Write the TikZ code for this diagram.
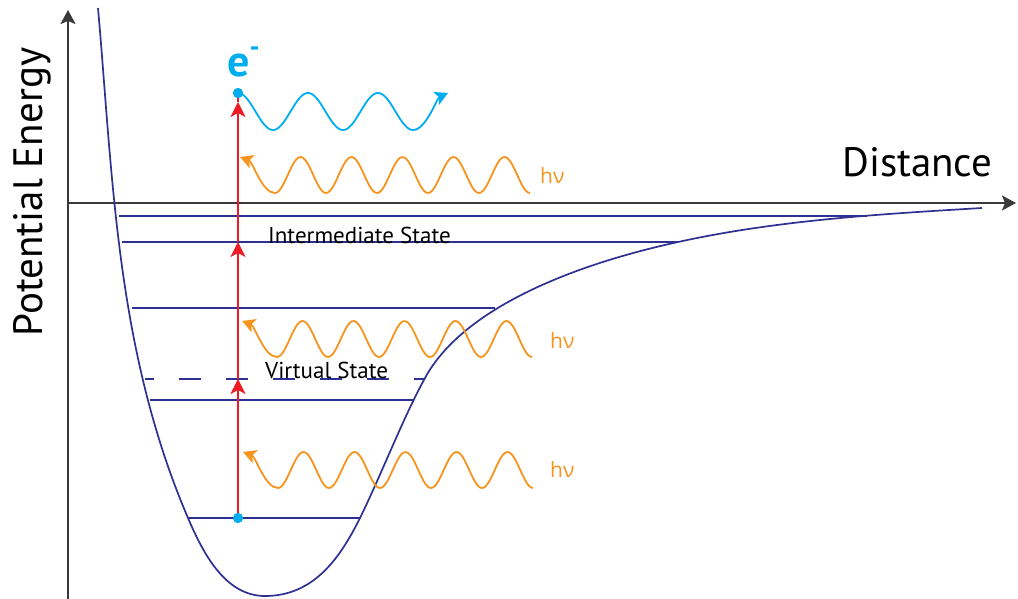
\documentclass[tikz,border=0pt]{standalone}
\usepackage{fontspec}
\setmainfont{PT Sans}
\newfontfamily\grkfont{Open Sans}
\usetikzlibrary{arrows.meta}
\definecolor{curvec}{HTML}{2E3192}
\definecolor{redc}{HTML}{ED1C24}
\definecolor{orngc}{HTML}{F7941D}
\definecolor{cyanc}{HTML}{00AEEF}
\definecolor{axisc}{HTML}{3A3A3A}
\begin{document}
\begin{tikzpicture}[x=1pt,y=-1pt,
  axis/.style={draw=axisc, line width=2pt, -{Stealth[length=14pt,width=15pt,inset=3pt]}},
  pes/.style={draw=curvec, line width=1.7pt},
  level/.style={draw=curvec, line width=1.4pt},
  vlevel/.style={level, dash pattern=on 22pt off 25pt, dash phase=13pt},
  excite/.style={draw=redc, line width=1.8pt, -{Stealth[length=15pt,width=15pt,inset=4pt]}},
  redplain/.style={draw=redc, line width=1.8pt},
  photon/.style={draw=orngc, line width=1.8pt, {Stealth[length=13pt,width=14pt,inset=3pt]}-},
  emit/.style={draw=cyanc, line width=1.8pt, -{Stealth[length=13pt,width=14pt,inset=3pt]}},
  dot/.style={circle, fill=cyanc, inner sep=0pt, minimum size=10pt},
  lbl/.style={font=\fontsize{23}{27}\selectfont, anchor=base west, inner sep=0pt},
  hv/.style={text=orngc, font=\grkfont\fontsize{21}{25}\selectfont, anchor=base west, inner sep=0pt},
  axlbl/.style={font=\fontsize{41}{49}\selectfont, inner sep=0pt},
]
\useasboundingbox (0,0) rectangle (1018,599);

% axes
\coordinate (O) at (68,203);
\coordinate (ybot) at (68,599);
\coordinate (ytop) at (68,10);
\coordinate (xend) at (1016,203);
\draw[axis] (ybot) -- (ytop);
\draw[axis] (O) -- (xend);

% energy levels
\coordinate (L1a) at (119,216); \coordinate (L1b) at (867,216);
\coordinate (L2a) at (122,242); \coordinate (L2b) at (678,242);
\coordinate (L3a) at (132,308); \coordinate (L3b) at (495,308);
\coordinate (Lva) at (145,379); \coordinate (Lvb) at (425,379);
\coordinate (L4a) at (150,400); \coordinate (L4b) at (413,400);
\coordinate (L5a) at (188,518); \coordinate (L5b) at (360,518);
\draw[level] (L1a) -- (L1b);
\draw[level] (L2a) -- (L2b);
\draw[level] (L3a) -- (L3b);
\draw[vlevel] (Lva) -- (Lvb);
\draw[level] (L4a) -- (L4b);
\draw[level] (L5a) -- (L5b);

% potential energy curve
\draw[pes] (98,8) .. controls (113,178) and (116,350) .. (188,518)
  .. controls (203,553) and (225,596) .. (265,596)
  .. controls (315,596) and (341,556) .. (360,518)
  .. controls (382,473) and (403,418) .. (425,378)
  .. controls (462,310) and (568,266) .. (678,242)
  .. controls (778,220) and (882,214) .. (982,208);

% excitation arrows
\node[dot] (ebot) at (238,518) {};
\node[dot] (etop) at (238,93) {};
\coordinate (av) at (238,379);
\coordinate (ai) at (238,242);
\coordinate (at) at (238,102);
\draw[excite] (ebot.center) -- (av);
\draw[excite] (av) -- (ai);
\draw[excite] (ai) -- (at);
\draw[redplain] (at) -- (etop.center);
\node[dot] at (ebot) {};
\node[dot] at (etop) {};

% emitted electron wave
\coordinate (etip) at (448,93);
\draw[emit] (etop.center) -- plot[domain=238:413, samples=120] (\x,{111.5-18.5*cos((\x-238)/35*180)})
   .. controls (426,130) and (437,98) .. (etip);

% photons
\coordinate (ph1) at (240,157);
\coordinate (ph2) at (242,321);
\coordinate (ph3) at (243,452);
\draw[photon] (ph1) .. controls (253,162) and (262,193) .. (275,193)
   -- plot[domain=275:530, samples=120] (\x,{175+18*cos((\x-275)/25.5*180)});
\draw[photon] (ph2) .. controls (255,326) and (264,357) .. (277,357)
   -- plot[domain=277:532, samples=120] (\x,{339+18*cos((\x-277)/25.5*180)});
\draw[photon] (ph3) .. controls (256,457) and (265,488) .. (278,488)
   -- plot[domain=278:533, samples=120] (\x,{470+18*cos((\x-278)/25.5*180)});

% labels
\node[hv] (hv1) at (540,183) {hν};
\node[hv] (hv2) at (550,348) {hν};
\node[hv] (hv3) at (550,477) {hν};
\node[lbl] (inter) at (268,243) {Intermediate State};
\node[lbl] (virt) at (265,378) {Virtual State};
\node[axlbl, anchor=base west] (xlab) at (842,177) {Distance};
\node[axlbl, rotate=90, anchor=base] (ylab) at (42,192) {Potential Energy};
\node[anchor=base west, inner sep=0pt, text=cyanc, font=\bfseries\fontsize{44}{50}\selectfont] (elab) at (227,77) {e\raisebox{20pt}{\fontsize{28}{28}\selectfont -}};
\end{tikzpicture}
\end{document}
